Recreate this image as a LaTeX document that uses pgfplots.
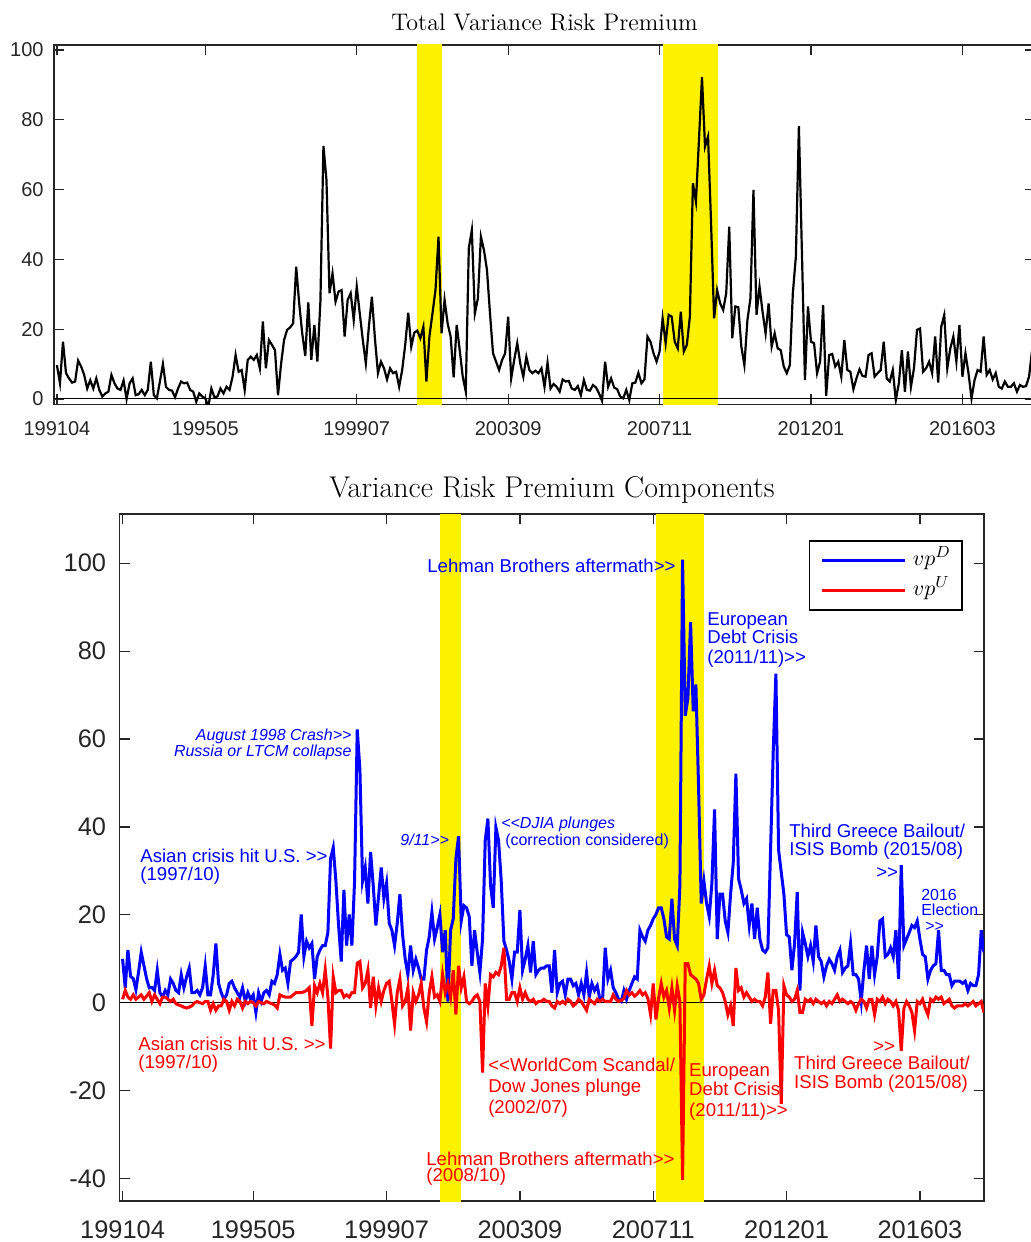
\documentclass[border=0pt]{standalone}
\usepackage{pgfplots}
\pgfplotsset{compat=1.18}
\usepackage{pgfplotstable}
\usepackage{fontspec}
\newfontfamily\helv{Liberation Sans}
\definecolor{axgray}{rgb}{0.15,0.15,0.15}
\newcommand{\fwd}{\textgreater\textgreater}
\newcommand{\bwd}{\textless\textless}
\newcommand{\ann}{\helv\fontsize{9.3}{11}\selectfont}
\newcommand{\annsmall}{\helv\fontsize{8}{9.6}\selectfont}

% monthly series, 1 = 1991/04: total premium, downside and upside components
\pgfplotstableread{
i tot vpd vpu
1 9.7 10 0.8
2 4.5 3.4 2.8
3 16.4 12 1.3
4 7.4 6 0.8
5 5.9 5.5 1.8
6 4.7 3 0.8
7 5 7 1.3
8 11 11.5 1.8
9 9.3 8.5 0.8
10 6.9 5.5 1.5
11 3 3.4 2.3
12 5.4 3.5 0.3
13 3 2.8 1.8
14 5.9 7.4 0.8
15 2.6 2.3 -0.2
16 0.7 1.3 1.3
17 1.6 2.8 1.3
18 2.1 1.8 0.8
19 6.9 5.4 0.3
20 4.5 4.4 0.8
21 3 2.8 -0.2
22 2.6 2.3 -0.5
23 5.3 6.4 -0.7
24 0 3.4 -1.0
25 4.5 5.9 -1.2
26 5.9 7.9 -1.0
27 1.1 2.3 -0.7
28 1.4 2.3 0
29 2.6 2.8 0.3
30 1.1 1.8 0
31 2.6 3.4 -0.2
32 10.7 8.4 0.3
33 1.1 1.8 0.3
34 0.2 1.8 -1.7
35 5 6.4 -0.2
36 10 13.5 -1.7
37 3.5 4.4 -0.7
38 2.6 2.3 -0.7
39 2.4 0.8 0.8
40 0.5 1.8 0.3
41 3 4.4 -1.7
42 5 4.9 0.3
43 4.5 3.4 -0.7
44 4.7 2.3 0.8
45 2.6 1.3 0.3
46 2.1 3.4 -1.2
47 -0.8 0.3 0.3
48 1.6 2.3 -0.2
49 0.7 0.8 0.3
50 0.2 1.8 0
51 -2.2 -2.2 -0.7
52 3 2.3 0.3
53 0.5 0.3 0
54 0.7 2.3 -0.2
55 3 2.8 0.3
56 1.6 1.8 0
57 3.5 4.9 -0.2
58 2.6 4.4 -0.5
59 6.4 6.4 -1.2
60 12.6 11 1.8
61 7.8 7.4 1.5
62 8.3 7.9 1.3
63 2.6 4.4 1.3
64 11.2 9.4 1.3
65 12.1 9.9 1.8
66 11.2 10.5 2.3
67 12.6 11.5 2.3
68 8.8 20.1 2.3
69 22.2 10.5 2.5
70 8.8 14 2.8
71 16.9 12.5 3.4
72 15.5 13.5 -5.3
73 14 5.4 3.9
74 1.1 10.5 2.3
75 10 12 4.4
76 16.9 13 2.3
77 19.8 13 7.5
78 20.5 16 1.3
79 21.7 32.8 -10.4
80 37.9 35.3 5.9
81 27.4 27.7 2.3
82 18.8 17.6 2.8
83 12.3 9.4 2.8
84 27.7 25.7 1.3
85 11.2 13 1.8
86 21.2 20.1 1.3
87 10.7 13 2.3
88 27.9 27.7 2.3
89 72.5 62.2 9
90 62.8 53.1 9.4
91 30.3 27.7 3.4
92 36 30.8 4.4
93 27.9 22.6 7.4
94 30.8 34.3 -1.2
95 31.2 26.7 5.9
96 17.9 17.6 -0.7
97 28.4 24.2 3.4
98 30.3 30.8 0.3
99 22.6 23.7 2.8
100 32.2 27.2 4.4
101 24.5 18.1 4.9
102 16.9 16.5 0.3
103 10.2 13 -4.8
104 20.7 18.1 2.3
105 29.3 24.7 5.4
106 17.4 15.5 -0.7
107 7.4 9.9 0.3
108 10.7 6.4 3.4
109 8.8 13 -6.3
110 5.6 7.4 2.3
111 8.8 9.9 0.3
112 7.4 7.9 1.8
113 7.8 5.4 4.4
114 3.5 5.4 -1.2
115 8.3 12 -4.3
116 15.5 15 2.3
117 24.7 20.6 5.9
118 15 14.5 1.3
119 19 17.1 1.8
120 19.6 20.1 0.3
121 17.4 11.5 6.4
122 20.7 16.5 2.3
123 5 0.3 4.4
124 17.9 16.5 1.3
125 24.5 19.1 7.4
126 31.2 32.8 -2.7
127 46.5 37.9 8.4
128 18.8 18.6 3.4
129 28.4 22.1 5.9
130 21.7 21.6 0.3
131 17.9 19.6 -0.2
132 6.2 8.4 0.3
133 21.2 16.5 1.3
134 14 11.5 1.8
135 6.4 6.9 0.3
136 2.1 14.5 -15.9
137 43.2 36.9 4.4
138 48.4 41.9 -0.7
139 24.5 26.7 6.4
140 28.8 21.6 5.9
141 46.5 39.9 6.9
142 42.7 36.9 6.4
143 37 27.7 8.4
144 24.5 14 12.5
145 13.1 12 0.8
146 10.7 9.4 0.8
147 8.3 5.4 2.3
148 11.2 11.5 2.3
149 13.1 11.5 0.3
150 23.6 21.1 3.4
151 5.9 7.4 0.8
152 11.2 9.9 2.3
153 16 13 0.8
154 10.2 6.9 0.3
155 6.4 14 0.8
156 12.1 6.4 -0.2
157 8.3 7.4 0.3
158 7.4 7.9 0.3
159 8.1 7.9 0.8
160 7.4 8.4 0.3
161 8.8 8.4 0.3
162 3.5 2.3 -0.7
163 10.4 12 -1.2
164 3 2.3 0.3
165 4.3 4.4 -0.2
166 3.5 4.9 0.3
167 2.1 1.8 -0.2
168 5.6 5.4 0.8
169 5 5.4 0.3
170 5.2 3.9 -0.7
171 3 4.4 -0.2
172 2.6 1.8 0.8
173 3.7 4.4 0.3
174 1.1 1.8 -0.7
175 5.4 6.9 -1.7
176 2.6 1.3 0.8
177 2.4 4.4 0.3
178 4 2.8 -0.2
179 3.3 3.9 0.8
180 1.6 0.8 0.3
181 -0.5 0.8 0.8
182 10.7 12.5 0.3
183 3.5 5.4 0.3
184 5.9 7.4 0.3
185 3.3 3.4 1.8
186 2.8 2.3 0.8
187 0.7 0.8 0.3
188 0.2 0.3 0.5
189 2.6 2.8 1
190 -0.3 0.8 2.8
191 4.5 2.8 1.8
192 4.7 4.4 2.3
193 7.5 5.9 1.5
194 4.5 5.4 2
195 5.6 16.5 2.8
196 17.9 15 1.8
197 16.4 14 2.3
198 13.1 16.5 1
199 10.7 17.6 -2.7
200 13.6 19.1 4.4
201 23.1 20.1 -3.8
202 16 21.6 1
203 24.1 21.6 4.4
204 23.6 19.1 1.3
205 16.4 15 2.8
206 14.5 14.5 -1.2
207 25 23.7 3.4
208 13.6 14.5 -1.7
209 15.5 13 3.9
210 23.6 26.7 0.3
211 61.8 100.8 -40.3
212 56.5 65.3 8.9
213 74.2 69.3 8.9
214 92.2 86.6 6.4
215 72.3 66.3 5.9
216 75.2 72.4 5.4
217 50.3 49 4.4
218 23.1 22.6 0.8
219 31.2 27.7 1.8
220 27.4 22.6 5.4
221 25.5 19.6 8.4
222 30.3 27.2 4.4
223 49.4 44 7.4
224 17.4 14.5 3.9
225 26.5 24.7 3.4
226 26.3 24.7 2.3
227 15 18.6 0.3
228 9.7 16 -2.7
229 22.6 24.7 -0.7
230 28.8 31.8 -5.3
231 59.9 52.1 7.9
232 24.1 28.2 2.8
233 32.2 25.7 3.4
234 25 22.6 1.3
235 18.8 23.7 2.3
236 27.4 17.6 1.3
237 15 22.6 0.3
238 18.8 14.5 0.8
239 14.5 21.6 0.3
240 14 14.5 0.3
241 9.3 12 -0.7
242 7.4 11.5 1.3
243 9.7 12.5 6.9
244 30.3 34.8 -4.8
245 40.8 57.2 2.8
246 78.2 74.9 2.8
247 42 34.8 -1.7
248 5.4 29.7 -23
249 26.5 24.7 3.9
250 16.4 15.5 1.8
251 16 15 1.3
252 7.4 7.4 0.3
253 10.7 13.5 0.8
254 26.9 25.2 2.8
255 0.9 2.8 -2.2
256 12.6 16 -2.2
257 12.9 13.5 0.8
258 9.3 10.5 0.3
259 10.7 13 0.8
260 6.4 9.4 -0.2
261 16.9 17.6 0.8
262 8.3 10.5 0.3
263 7.8 9.4 -0.2
264 2.8 5.9 0.3
265 5.9 8.4 -0.7
266 8.5 9.9 0.3
267 6.6 8.9 -0.2
268 6.4 7.4 0.8
269 12.6 10.5 1.8
270 13.1 12 0.3
271 6.4 6.9 0.8
272 7.4 7.9 0.3
273 8.3 8.4 -0.2
274 16.4 13.5 0.3
275 5.9 6.4 -0.2
276 5 6.4 -1.7
277 8.3 5.4 -0.2
278 -0.3 0.3 0.8
279 4.5 7.4 0.3
280 14 13 -1.2
281 2.1 5.4 0.8
282 13.6 13 0.8
283 3.5 6.4 -2.7
284 8.8 10.5 0.8
285 19.8 18.6 0.3
286 20.2 19.1 1.3
287 7.8 10.5 -0.2
288 8.8 11 0.8
289 10.7 12.5 0.3
290 7.4 10.5 -0.7
291 17.9 16.5 0.3
292 4.7 5.4 -1.7
293 20.7 31.3 -10.9
294 24.1 13 -1.2
295 8.8 14.5 0.3
296 14.5 16 -0.7
297 17.9 17.6 -2.2
298 10.7 17.1 -6.3
299 21.2 18.6 0.3
300 6.4 14.5 -0.2
301 13.1 11 0.8
302 7.4 10.5 -1.2
303 0.2 5.4 -2.7
304 5.4 7.4 0.8
305 8.3 8.4 0.3
306 7.8 8.9 1.3
307 17.9 16.5 0.8
308 6.9 7.4 1.3
309 8.3 7.4 -0.2
310 5.6 6.4 0.3
311 7.4 6.4 0.8
312 3.5 3.9 -0.7
313 3 4.9 -1.2
314 5 4.9 -0.7
315 3.5 4.9 -0.7
316 3.5 4.4 -0.7
317 4.5 4.9 -0.2
318 2.1 2.8 -0.7
319 4 4.4 -0.2
320 3.5 3.9 0.3
321 3.7 3.9 -0.7
322 6.4 6.4 -0.2
323 14 16.5 0.3
324 16 11.5 -2.2
}\vrp

\pgfplotsset{
  every axis title shift=0pt,
  vrpaxis/.style={
    scale only axis,
    xmin=0, xmax=324,
    xtick={1,50,100,150,200,250,300},
    xticklabels={199104,199505,199907,200309,200711,201201,201603},
    tick align=inside,
    major tick length=5pt,
    axis line style={draw=axgray, line width=0.6pt},
    tick style={draw=axgray, line width=0.6pt},
    yticklabel style={anchor=east, inner sep=0pt},
    xticklabel style={anchor=base, inner sep=0pt},
    title style={anchor=base, at={(0.5,1)}},
  },
  recession/.style={draw=none, fill=yellow, forget plot},
}
\tikzset{event/.style={inner sep=0pt, anchor=base west}}

\begin{document}
\begin{tikzpicture}
% ---------- total premium ----------
\begin{axis}[vrpaxis,
  at={(26.95pt,-22.5pt)}, anchor=north west,
  width=490.6pt, height=179.65pt,
  ymin=-1.52, ymax=101.43,
  ytick={0,20,40,60,80,100},
  yticklabels={0,20,40,60,80,100},
  ticklabel style={font=\helv\fontsize{10}{12}\selectfont, text=axgray},
  xticklabel style={yshift=-15.4pt},
  yticklabel style={xshift=-5pt},
  title={Total Variance Risk Premium},
  title style={font=\fontsize{12}{14}\selectfont, yshift=7.5pt},
]
\addplot[recession] coordinates {(120,-50) (128,-50) (128,150) (120,150)};
\addplot[recession] coordinates {(201,-50) (219.2,-50) (219.2,150) (201,150)};
\addplot[black, line width=0.5pt, forget plot] coordinates {(0,0) (324,0)};
\addplot[black, line width=1.1pt, mark=none] table[x=i, y=tot] {\vrp};
\end{axis}

% ---------- downside / upside components ----------
\begin{axis}[vrpaxis,
  at={(59.95pt,-257pt)}, anchor=north west,
  width=432pt, height=343.5pt,
  ymin=-45.1, ymax=111.2,
  ytick={-40,-20,0,20,40,60,80,100},
  yticklabels={-40,-20,0,20,40,60,80,100},
  ticklabel style={font=\helv\fontsize{12.7}{15}\selectfont, text=axgray},
  xticklabel style={yshift=-18.5pt},
  yticklabel style={xshift=-6.7pt},
  title={Variance Risk Premium Components},
  title style={font=\fontsize{15}{18}\selectfont, yshift=8.5pt},
  legend style={at={(0.9753,0.9617)}, anchor=north east, draw=black,
    line width=0.6pt, fill=white,
    font=\fontsize{11}{13}\selectfont,
    inner xsep=5.6pt, inner ysep=3.6pt, row sep=3.3pt,
    nodes={inner sep=0pt, text height=8.5pt, text depth=3.5pt}},
  legend cell align=left,
  legend image code/.code={\draw[#1] (0pt,0pt) -- (41.7pt,0pt);},
]
\addplot[recession] coordinates {(120,-60) (128,-60) (128,150) (120,150)};
\addplot[recession] coordinates {(201,-60) (219.2,-60) (219.2,150) (201,150)};
\addplot[black, line width=0.6pt, forget plot] coordinates {(0,0) (324,0)};
\addplot[blue, line width=1.5pt, mark=none] table[x=i, y=vpd] {\vrp};
\addlegendentry{\hspace{3pt}$vp^D$}
\addplot[red, line width=1.5pt, mark=none] table[x=i, y=vpu] {\vrp};
\addlegendentry{\hspace{3pt}$vp^U$}

% downside events
\node[event, text=blue, font=\ann] at (axis cs:7.54,31.93) {Asian crisis hit U.S. \fwd};
\node[event, text=blue, font=\ann] at (axis cs:7.54,27.84) {(1997/10)};
\node[event, anchor=base east, text=blue, font=\annsmall\itshape] at (axis cs:87.03,59.68) {August 1998 Crash\fwd};
\node[event, anchor=base east, text=blue, font=\annsmall\itshape] at (axis cs:87.03,56.04) {Russia or LTCM collapse};
\node[event, text=blue, font=\annsmall\itshape] at (axis cs:105.03,35.8) {9/11\fwd};
\node[event, text=blue, font=\annsmall\itshape] at (axis cs:142.86,39.66) {\bwd DJIA plunges};
\node[event, text=blue, font=\annsmall] at (axis cs:144.36,35.8) {(correction considered)};
\node[event, text=blue, font=\ann] at (axis cs:115.15,97.88) {Lehman Brothers aftermath\fwd};
\node[event, text=blue, font=\ann] at (axis cs:220.14,85.83) {European};
\node[event, text=blue, font=\ann] at (axis cs:220.14,81.74) {Debt Crisis};
\node[event, text=blue, font=\ann] at (axis cs:220.14,77.19) {(2011/11)\fwd};
\node[event, text=blue, font=\ann] at (axis cs:250.9,37.62) {Third Greece Bailout/};
\node[event, text=blue, font=\ann] at (axis cs:250.9,33.52) {ISIS Bomb (2015/08)};
\node[event, text=blue, font=\ann] at (axis cs:283.5,28.29) {\fwd};
\node[event, text=blue, font=\annsmall] at (axis cs:300.37,23.29) {2016};
\node[event, text=blue, font=\annsmall] at (axis cs:300.37,19.88) {Election};
\node[event, text=blue, font=\annsmall] at (axis cs:301.87,16.24) {\fwd};

% upside events
\node[event, text=red, font=\ann] at (axis cs:6.79,-10.83) {Asian crisis hit U.S. \fwd};
\node[event, text=red, font=\ann] at (axis cs:6.79,-14.92) {(1997/10)};
\node[event, text=red, font=\ann] at (axis cs:138.0,-15.6) {\bwd WorldCom Scandal/};
\node[event, text=red, font=\ann] at (axis cs:138.0,-20.38) {Dow Jones plunge};
\node[event, text=red, font=\ann] at (axis cs:138.0,-25.15) {(2002/07)};
\node[event, text=red, font=\ann] at (axis cs:213.35,-16.74) {European};
\node[event, text=red, font=\ann] at (axis cs:213.35,-21.06) {Debt Crisis};
\node[event, text=red, font=\ann] at (axis cs:213.35,-25.84) {(2011/11)\fwd};
\node[event, text=red, font=\ann] at (axis cs:114.78,-36.98) {Lehman Brothers aftermath\fwd};
\node[event, text=red, font=\ann] at (axis cs:114.78,-40.62) {(2008/10)};
\node[event, text=red, font=\ann] at (axis cs:282.4,-11.4) {\fwd};
\node[event, text=red, font=\ann] at (axis cs:252.7,-15.15) {Third Greece Bailout/};
\node[event, text=red, font=\ann] at (axis cs:252.7,-19.47) {ISIS Bomb (2015/08)};
\end{axis}

\pgfresetboundingbox
\useasboundingbox (0pt,0pt) rectangle (515.5pt,-621pt);
\end{tikzpicture}
\end{document}
